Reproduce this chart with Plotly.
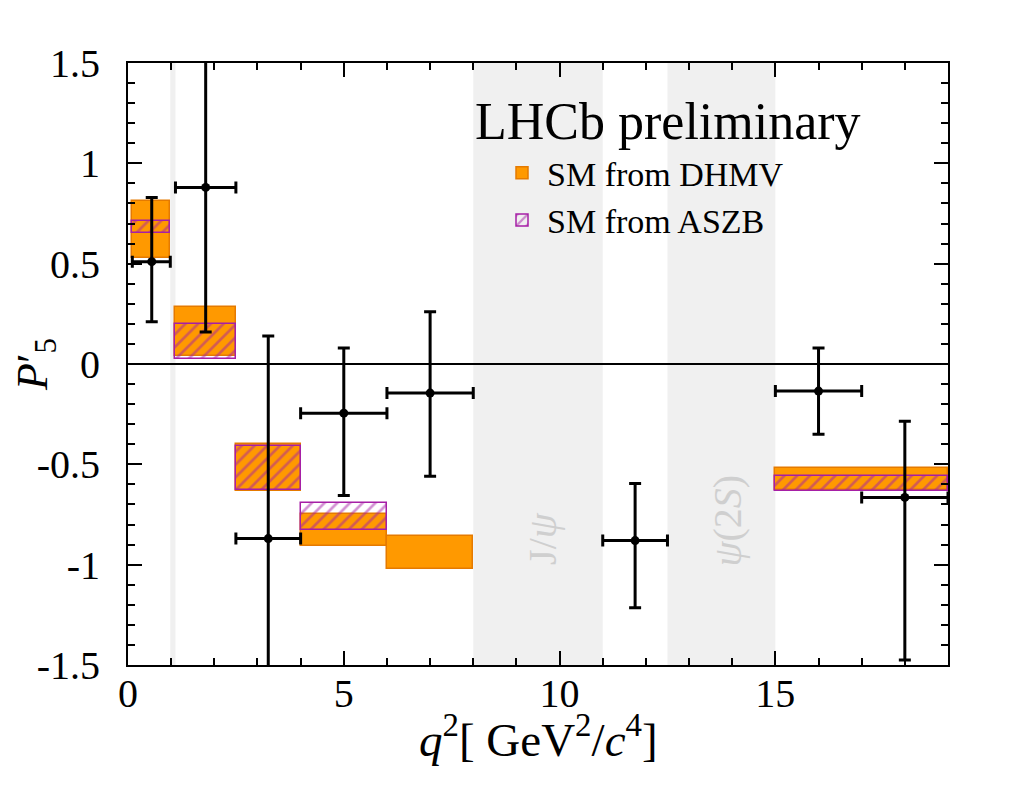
import plotly.graph_objects as go

# ---------------- data ----------------
# measured points (LHCb)
pt_x = [0.55, 1.8, 3.25, 5.0, 7.0, 11.75, 16.0, 18.0]
pt_y = [0.51, 0.88, -0.87, -0.245, -0.145, -0.88, -0.135, -0.665]
pt_bin_lo = [0.1, 1.1, 2.5, 4.0, 6.0, 11.0, 15.0, 17.0]
pt_bin_hi = [0.98, 2.5, 4.0, 6.0, 8.0, 12.5, 17.0, 19.0]
pt_y_hi = [0.83, 1.60, 0.14, 0.08, 0.26, -0.595, 0.08, -0.285]
pt_y_lo = [0.21, 0.16, -1.88, -0.655, -0.56, -1.215, -0.35, -1.475]

# SM prediction DHMV
dhmv_bin_lo = [0.1, 1.1, 2.5, 4.0, 6.0, 15.0]
dhmv_bin_hi = [0.98, 2.5, 4.0, 6.0, 8.0, 19.0]
dhmv_lo = [0.53, 0.04, -0.635, -0.905, -1.02, -0.63]
dhmv_hi = [0.81, 0.285, -0.40, -0.745, -0.857, -0.52]

# SM prediction ASZB
aszb_bin_lo = [0.1, 1.1, 2.5, 4.0, 15.0]
aszb_bin_hi = [0.98, 2.5, 4.0, 6.0, 19.0]
aszb_lo = [0.655, 0.027, -0.628, -0.828, -0.633]
aszb_hi = [0.714, 0.20, -0.41, -0.694, -0.557]

# vetoed q2 regions
veto_lo = [0.98, 8.0, 12.5]
veto_hi = [1.1, 11.0, 15.0]
veto_labels = ["", "J/<i>ψ</i>", "<i>ψ</i>(2<i>S</i>)"]
veto_label_x = [None, 9.6, 13.9]
veto_label_y = [None, -0.87, -0.78]

x_tick_vals = [0, 5, 10, 15]
x_tick_text = ["0", "5", "10", "15"]
y_tick_vals = [-1.5, -1.0, -0.5, 0.0, 0.5, 1.0, 1.5]
y_tick_text = ["-1.5", "-1", "-0.5", "0", "0.5", "1", "1.5"]

FONT = "Liberation Serif"
ORANGE = "#ff9900"
ORANGE_EDGE = "#e57a00"
PURPLE = "#a61fa6"

fig = go.Figure()

# DHMV boxes
fig.add_trace(go.Bar(
    x=[(a + b) / 2 for a, b in zip(dhmv_bin_lo, dhmv_bin_hi)],
    width=[b - a for a, b in zip(dhmv_bin_lo, dhmv_bin_hi)],
    base=dhmv_lo,
    y=[h - l for l, h in zip(dhmv_lo, dhmv_hi)],
    marker=dict(color=ORANGE, line=dict(color=ORANGE_EDGE, width=1.5)),
    name="SM from DHMV",
    hoverinfo="skip",
))

# ASZB hatched boxes
fig.add_trace(go.Bar(
    x=[(a + b) / 2 for a, b in zip(aszb_bin_lo, aszb_bin_hi)],
    width=[b - a for a, b in zip(aszb_bin_lo, aszb_bin_hi)],
    base=aszb_lo,
    y=[h - l for l, h in zip(aszb_lo, aszb_hi)],
    marker=dict(
        color="rgba(0,0,0,0)",
        line=dict(color=PURPLE, width=1.5),
        pattern=dict(shape="/", fgcolor=PURPLE, bgcolor="rgba(0,0,0,0)",
                     size=9, solidity=0.3, fillmode="overlay"),
    ),
    name="SM from ASZB",
    hoverinfo="skip",
))

# data points
fig.add_trace(go.Scatter(
    x=pt_x, y=pt_y, mode="markers",
    marker=dict(color="black", size=9),
    error_x=dict(type="data", symmetric=False,
                 array=[h - x for x, h in zip(pt_x, pt_bin_hi)],
                 arrayminus=[x - l for x, l in zip(pt_x, pt_bin_lo)],
                 color="black", thickness=3, width=6),
    error_y=dict(type="data", symmetric=False,
                 array=[h - y for y, h in zip(pt_y, pt_y_hi)],
                 arrayminus=[y - l for y, l in zip(pt_y, pt_y_lo)],
                 color="black", thickness=3, width=6),
    showlegend=False,
    hoverinfo="skip",
))

# veto bands
for lo, hi in zip(veto_lo, veto_hi):
    fig.add_vrect(x0=lo, x1=hi, fillcolor="#f0f0f0", line_width=0, layer="below")

for lab, lx, ly in zip(veto_labels, veto_label_x, veto_label_y):
    if lab:
        fig.add_annotation(x=lx, y=ly, xref="x", yref="y", text=lab, showarrow=False,
                           textangle=-90, font=dict(family=FONT, size=40, color="#cfcfcf"))

fig.add_annotation(x=0.4207, y=0.902, xref="paper", yref="paper", xanchor="left",
                   yanchor="middle", text="LHCb preliminary", showarrow=False,
                   font=dict(family=FONT, size=52, color="black"))

# x-axis title as annotation (placed close to tick labels as in the reference)
fig.add_annotation(x=0.5, y=-0.118, xref="paper", yref="paper", xanchor="center",
                   yanchor="middle", showarrow=False,
                   text="<i>q</i><sup>2</sup>[ GeV<sup>2</sup>/<i>c</i><sup>4</sup>]",
                   font=dict(family=FONT, size=47, color="black"))

axis_common = dict(
    showline=True, linecolor="black", linewidth=2, mirror="allticks",
    ticks="inside", tickcolor="black", tickwidth=1.5, ticklen=14,
    showgrid=False, automargin=False,
    tickfont=dict(family=FONT, size=40, color="black"),
)

fig.update_xaxes(
    range=[0, 19], tickmode="array", tickvals=x_tick_vals, ticktext=x_tick_text,
    minor=dict(ticks="inside", dtick=1, ticklen=7, tickcolor="black", tickwidth=1.5),
    zeroline=False, ticklabelstandoff=-8,
    **axis_common,
)
fig.update_yaxes(
    range=[-1.5, 1.5], tickmode="array", tickvals=y_tick_vals, ticktext=y_tick_text,
    minor=dict(ticks="inside", dtick=0.1, ticklen=7, tickcolor="black", tickwidth=1.5),
    zeroline=True, zerolinecolor="black", zerolinewidth=1.5,
    ticklabelstandoff=18,
    title=dict(text="<i>P</i>′<sub>5</sub>", font=dict(family=FONT, size=44, color="black"),
               standoff=2),
    **axis_common,
)

fig.update_layout(
    width=1024, height=809,
    margin=dict(l=120, r=84, t=55, b=152),
    paper_bgcolor="white", plot_bgcolor="white",
    barmode="overlay", bargap=0,
    showlegend=True,
    legend=dict(x=0.45, y=0.865, xanchor="left", yanchor="top",
                font=dict(family=FONT, size=34, color="black"),
                bgcolor="rgba(0,0,0,0)", itemwidth=40, tracegroupgap=8),
    font=dict(family=FONT, color="black"),
)

fig.write_html("out.html")
